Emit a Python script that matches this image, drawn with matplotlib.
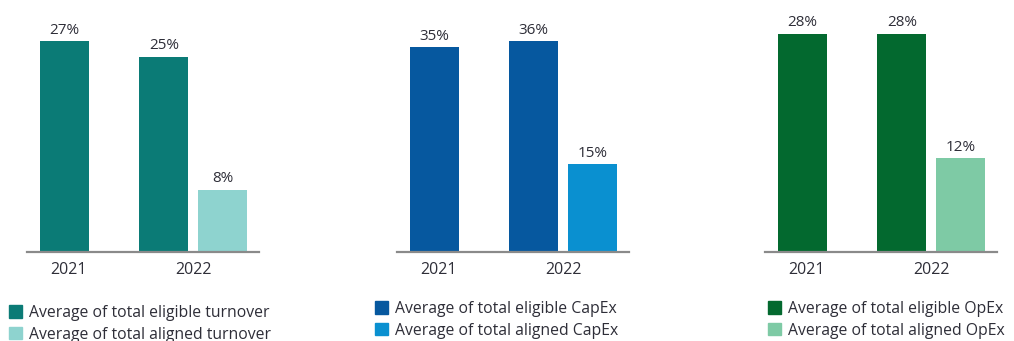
import matplotlib
matplotlib.use("Agg")
import matplotlib.pyplot as plt
from matplotlib.patches import Patch

# data
years = ["2021", "2022"]
turnover_eligible = [27, 25]
turnover_aligned = [8]          # only reported for 2022
capex_eligible = [35, 36]
capex_aligned = [15]
opex_eligible = [28, 28]
opex_aligned = [12]

legend_turnover = ["Average of total eligible turnover", "Average of total aligned turnover"]
legend_capex = ["Average of total eligible CapEx", "Average of total aligned CapEx"]
legend_opex = ["Average of total eligible OpEx", "Average of total aligned OpEx"]

plt.rcParams['font.family'] = ['Open Sans', 'DejaVu Sans']
txt_col = '#2e2e38'

W, H = 1014, 341
fig = plt.figure(figsize=(W / 100, H / 100), dpi=100)

panels = [
    (turnover_eligible, turnover_aligned, legend_turnover, ('#0b7b76', '#8ed3cf'), 30, 27, (9, 305)),
    (capex_eligible, capex_aligned, legend_capex, ('#06589f', '#0a90d0'), 40, 397, (375, 301)),
    (opex_eligible, opex_aligned, legend_opex, ('#03692f', '#7ecaa5'), 30, 765, (768, 301)),
]

step = 1.0
off = 0.596
width = 0.495

for elig, alig, labels, cols, ymax, left_px, leg_px in panels:
    ax = fig.add_axes([left_px / W, (H - 252) / H, 232 / W, 234 / H])
    x_e = [i * step for i in range(len(elig))]
    x_a = [x_e[-1] + off]
    b1 = ax.bar(x_e, elig, width=width, color=cols[0])
    b2 = ax.bar(x_a, alig, width=width, color=cols[1])
    for rects, vals in ((b1, elig), (b2, alig)):
        for r, v in zip(rects, vals):
            ax.text(r.get_x() + r.get_width() / 2, v + ymax * 0.015, f"{v}%",
                    ha='center', va='bottom', fontsize=11, color=txt_col)
    ax.set_xlim(-0.38, 1.96)
    ax.set_ylim(0, ymax)
    ax.set_xticks([x_e[0] + 0.04, (x_e[1] + x_a[0]) / 2])
    ax.set_xticklabels(years, fontsize=11.5, color=txt_col)
    ax.tick_params(axis='x', length=0, pad=7)
    ax.set_yticks([])
    for s in ('top', 'right', 'left'):
        ax.spines[s].set_visible(False)
    ax.spines['bottom'].set_color('#8a8a8a')
    ax.spines['bottom'].set_linewidth(1.6)
    handles = [Patch(color=cols[0]), Patch(color=cols[1])]
    ax.legend(handles, labels, loc='upper left',
              bbox_to_anchor=(leg_px[0] / W, (H - leg_px[1]) / H),
              bbox_transform=fig.transFigure, frameon=False, borderpad=0,
              handlelength=0.85, handleheight=0.85, handletextpad=0.45,
              labelspacing=0.36, fontsize=11.3, labelcolor=txt_col, borderaxespad=0)

fig.savefig("out.png", dpi=100)
